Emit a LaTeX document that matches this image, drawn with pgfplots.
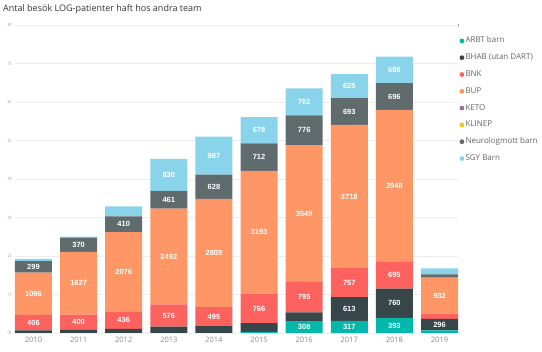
\documentclass[border=0pt]{standalone}
\usepackage{pgfplots}
\pgfplotsset{compat=1.18}
\usepackage{pgfplotstable}
\usepackage{fontspec}
\setmainfont{Open Sans}
\newfontfamily\labelfont{Liberation Sans}
\definecolor{cARBT}{HTML}{01B8AA}
\definecolor{cBHAB}{HTML}{374649}
\definecolor{cBNK}{HTML}{FD625E}
\definecolor{cBUP}{HTML}{FE9666}
\definecolor{cKETO}{HTML}{A66999}
\definecolor{cKLINEP}{HTML}{F2C80F}
\definecolor{cNEURO}{HTML}{5F6B6D}
\definecolor{cSGY}{HTML}{8AD4EB}
\definecolor{gridc}{HTML}{EDEDED}
\definecolor{tickc}{HTML}{8A8A8A}

\pgfplotstableread{
x ARBT BHAB BNK BUP KETO KLINEP NEURO SGY
0 0   65  406 1096 0 0 299 60
1 0   80  400 1627 0 0 370 25
2 0   110 436 2076 0 0 410 260
3 0   165 576 2492 0 0 461 830
4 0   180 495 2809 0 0 628 987
5 30  225 766 3193 0 0 712 678
6 308 225 795 3549 0 0 776 702
7 317 613 757 3718 0 0 693 625
8 393 760 695 3948 0 0 696 688
9 70  296 140 932  0 0 87  156
}\datatable

\pgfplotstableread{
x y lab
0 268 406
0 1019 1096
0 1716 299
1 280 400
1 1293 1627
1 2292 370
2 328 436
2 1584 2076
2 2827 410
3 453 576
3 1987 2492
3 3463 461
3 4109 830
4 427 495
4 2079 2809
4 3798 628
4 4605 987
5 638 766
5 2617 3193
5 4570 712
5 5265 678
6 154 308
6 930 795
6 3102 3549
6 5265 776
6 6004 702
7 158 317
7 623 613
7 1308 757
7 3546 3718
7 5751 693
7 6410 625
8 196 393
8 773 760
8 1500 695
8 3822 3948
8 6144 696
8 6836 688
9 218 296
9 972 932
}\labeltable

\pgfplotsset{dotlegend/.style={legend image code/.code={\fill[##1] (2.4pt,0pt) circle (2.4pt);}}}

\begin{document}
\begin{tikzpicture}
\path[use as bounding box] (0,0) rectangle (542pt,352pt);
\node[anchor=base west, font=\fontsize{9}{11}\selectfont, text=black!80, inner sep=0pt] at (3pt,340pt) {Antal besök LOG-patienter haft hos andra team};
\begin{axis}[
  at={(15pt,19pt)}, anchor=south west,
  scale only axis, width=443pt, height=308pt,
  ybar stacked, bar width=0.82,
  xmin=-0.41, xmax=9.41, ymin=0, ymax=8000,
  xtick={0,1,2,3,4,5,6,7,8,9},
  xticklabels={2010,2011,2012,2013,2014,2015,2016,2017,2018,2019},
  ytick={0,1000,2000,3000,4000,5000,6000,7000,8000},
  yticklabels={0t,1t,2t,3t,4t,5t,6t,7t,8t},
  axis line style={draw=none}, major tick style={draw=none},
  ymajorgrids, grid style={color=gridc, line width=0.6pt},
  x tick label style={font=\fontsize{7.5}{8}\selectfont, text=tickc, inner sep=0pt, yshift=-3.5pt},
  y tick label style={font=\fontsize{4.5}{5}\selectfont, text=tickc!80, inner sep=0pt, xshift=-3pt},
  legend style={at={(1,1)}, anchor=north west, xshift=1.3pt, yshift=-12pt,
    draw=none, fill=none, inner sep=0pt,
    font=\fontsize{8}{9}\selectfont, text=black!60,
    row sep=9.4pt, column sep=1.2pt,
    nodes={inner sep=0pt, text height=5.8pt, text depth=1.6pt}},
  legend cell align=left,
]
\addplot[fill=cARBT, draw=none, dotlegend] table[x=x, y=ARBT] {\datatable};
\addlegendentry{ARBT barn}
\addplot[fill=cBHAB, draw=none, dotlegend] table[x=x, y=BHAB] {\datatable};
\addlegendentry{BHAB (utan DART)}
\addplot[fill=cBNK, draw=none, dotlegend] table[x=x, y=BNK] {\datatable};
\addlegendentry{BNK}
\addplot[fill=cBUP, draw=none, dotlegend] table[x=x, y=BUP] {\datatable};
\addlegendentry{BUP}
\addplot[fill=cKETO, draw=none, dotlegend] table[x=x, y=KETO] {\datatable};
\addlegendentry{KETO}
\addplot[fill=cKLINEP, draw=none, dotlegend] table[x=x, y=KLINEP] {\datatable};
\addlegendentry{KLINEP}
\addplot[fill=cNEURO, draw=none, dotlegend] table[x=x, y=NEURO] {\datatable};
\addlegendentry{Neurologmott barn}
\addplot[fill=cSGY, draw=none, dotlegend] table[x=x, y=SGY] {\datatable};
\addlegendentry{SGY Barn}
\node[anchor=west, font=\fontsize{8}{9}\selectfont, text=black!80, inner sep=0pt] at (rel axis cs:1,1) [yshift=-1.7pt] {Grupp av team};
\end{axis}
\begin{axis}[
  at={(15pt,19pt)}, anchor=south west,
  scale only axis, width=443pt, height=308pt,
  xmin=-0.41, xmax=9.41, ymin=0, ymax=8000,
  hide axis,
]
\addplot[draw=none, mark=none, nodes near coords, point meta=explicit symbolic,
  nodes near coords style={anchor=center, inner sep=0pt, font=\labelfont\bfseries\fontsize{7.5}{8}\selectfont, text=white}]
  table[x=x, y=y, meta=lab] {\labeltable};
\end{axis}
\end{tikzpicture}
\end{document}
